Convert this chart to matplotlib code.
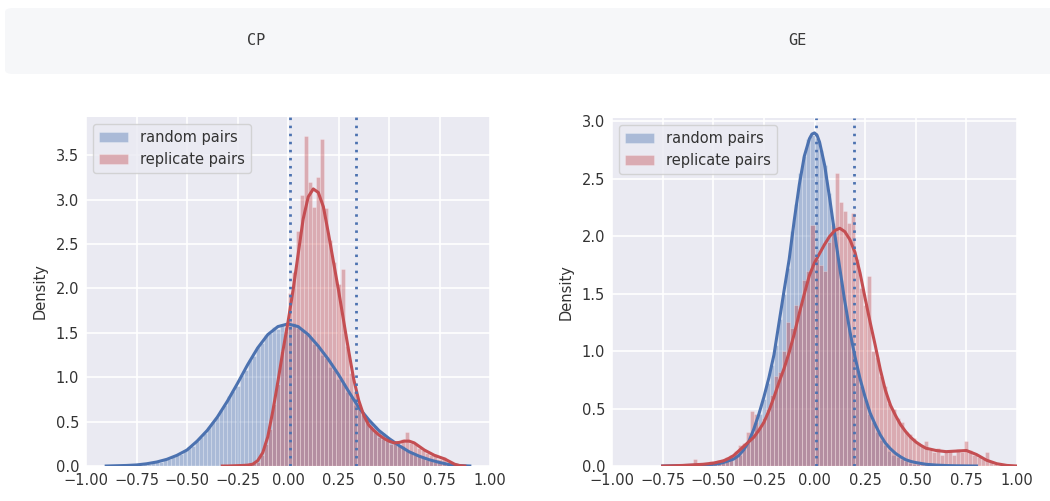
import numpy as np
import matplotlib.pyplot as plt
from matplotlib.patches import FancyBboxPatch

# colours of the seaborn "deep" palette
blue = '#4C72B0'
red = '#C44E52'

tabs = ['CP', 'GE']

# histogram bins (density), 0.02 wide, listed from the first left edge
bin_w = 0.02

cp_rand_start = -0.90
cp_rand_hist = [0.0, 0.0, 0.0, 0.01, 0.0, 0.01, 0.01, 0.02, 0.01, 0.03,
                0.02, 0.04, 0.05, 0.05, 0.07, 0.08, 0.10, 0.12, 0.14, 0.17,
                0.21, 0.23, 0.28, 0.33, 0.37, 0.44, 0.49, 0.55, 0.63, 0.69,
                0.79, 0.84, 0.90, 1.03, 1.08, 1.19, 1.24, 1.34, 1.38, 1.47,
                1.50, 1.56, 1.54, 1.60, 1.57, 1.58, 1.61, 1.55, 1.54, 1.49,
                1.45, 1.37, 1.34, 1.25, 1.22, 1.12, 1.08, 0.98, 0.93, 0.83,
                0.78, 0.69, 0.65, 0.57, 0.54, 0.48, 0.45, 0.39, 0.37, 0.32,
                0.30, 0.28, 0.23, 0.22, 0.18, 0.16, 0.12, 0.12, 0.09, 0.07,
                0.06, 0.05, 0.04, 0.03, 0.02, 0.01, 0.01, 0.0]

cp_rep_start = -0.30
cp_rep_hist = [0.0, 0.01, 0.0, 0.01, 0.01, 0.02, 0.03, 0.05, 0.12, 0.25,
               0.42, 0.70, 0.92, 1.30, 1.52, 1.95, 2.18, 2.65, 3.05, 3.72,
               3.20, 2.92, 3.25, 3.68, 2.90, 2.55, 2.30, 2.05, 2.22, 1.35,
               1.05, 0.85, 0.68, 0.58, 0.52, 0.45, 0.40, 0.33, 0.30, 0.31,
               0.25, 0.28, 0.24, 0.30, 0.38, 0.26, 0.25, 0.20, 0.18, 0.15,
               0.12, 0.14, 0.08, 0.10, 0.05, 0.02, 0.01, 0.0]

ge_rand_start = -0.56
ge_rand_hist = [0.01, 0.01, 0.02, 0.02, 0.03, 0.03, 0.05, 0.06, 0.08, 0.10,
                0.15, 0.20, 0.28, 0.38, 0.45, 0.58, 0.72, 0.88, 1.05, 1.28,
                1.50, 1.72, 2.05, 2.28, 2.55, 2.70, 2.85, 2.88, 2.86, 2.75,
                2.62, 2.38, 2.12, 1.88, 1.62, 1.40, 1.20, 1.00, 0.85, 0.70,
                0.58, 0.45, 0.38, 0.30, 0.23, 0.18, 0.13, 0.10, 0.08, 0.06,
                0.04, 0.03, 0.02, 0.02, 0.01, 0.01, 0.0, 0.01]

ge_rep_start = -0.74
ge_rep_hist = [0.0, 0.0, 0.01, 0.0, 0.01, 0.01, 0.02, 0.06, 0.01, 0.02,
               0.03, 0.04, 0.03, 0.05, 0.06, 0.08, 0.10, 0.13, 0.18, 0.20,
               0.30, 0.48, 0.45, 0.35, 0.42, 0.50, 0.62, 0.78, 0.82, 1.00,
               1.25, 1.20, 1.40, 1.38, 1.62, 1.70, 2.10, 1.80, 1.75, 1.70,
               1.95, 2.10, 2.55, 2.30, 2.22, 2.12, 2.20, 1.80, 1.55, 1.40,
               1.65, 1.00, 0.95, 0.78, 0.70, 0.55, 0.50, 0.42, 0.38, 0.30,
               0.28, 0.24, 0.20, 0.18, 0.22, 0.14, 0.12, 0.16, 0.10, 0.12,
               0.14, 0.10, 0.15, 0.12, 0.22, 0.14, 0.10, 0.08, 0.06, 0.12,
               0.04, 0.02, 0.01, 0.0]

# kde curves
cp_rand_kx = [-0.90, -0.85, -0.80, -0.75, -0.70, -0.65, -0.60, -0.55, -0.50, -0.45,
              -0.40, -0.35, -0.30, -0.25, -0.20, -0.15, -0.10, -0.05, 0.00, 0.05,
              0.10, 0.15, 0.20, 0.25, 0.30, 0.35, 0.40, 0.45, 0.50, 0.55,
              0.60, 0.65, 0.70, 0.75, 0.80, 0.85, 0.90]
cp_rand_ky = [0.0, 0.003, 0.006, 0.012, 0.025, 0.045, 0.075, 0.12, 0.18, 0.28,
              0.40, 0.55, 0.73, 0.93, 1.14, 1.33, 1.48, 1.57, 1.60, 1.57,
              1.48, 1.35, 1.20, 1.03, 0.84, 0.66, 0.52, 0.40, 0.31, 0.23,
              0.16, 0.11, 0.07, 0.04, 0.015, 0.005, 0.0]

cp_rep_kx = [-0.325, -0.30, -0.275, -0.25, -0.225, -0.20, -0.175, -0.15, -0.125, -0.10,
             -0.075, -0.05, -0.025, 0.0, 0.025, 0.05, 0.075, 0.10, 0.125, 0.15,
             0.175, 0.20, 0.225, 0.25, 0.275, 0.30, 0.325, 0.35, 0.375, 0.40,
             0.425, 0.45, 0.475, 0.50, 0.525, 0.55, 0.575, 0.60, 0.625, 0.65,
             0.675, 0.70, 0.725, 0.75, 0.775, 0.80, 0.825, 0.85, 0.875]
cp_rep_ky = [0.0, 0.0, 0.002, 0.004, 0.006, 0.01, 0.02, 0.06, 0.15, 0.33,
             0.62, 0.95, 1.30, 1.62, 1.98, 2.38, 2.78, 3.03, 3.12, 3.08,
             2.92, 2.62, 2.30, 1.98, 1.64, 1.30, 0.98, 0.74, 0.57, 0.46,
             0.40, 0.35, 0.31, 0.28, 0.26, 0.265, 0.28, 0.28, 0.26, 0.22,
             0.18, 0.15, 0.12, 0.10, 0.08, 0.05, 0.02, 0.005, 0.0]

ge_rand_kx = [-0.75, -0.70, -0.65, -0.60, -0.55, -0.50, -0.475, -0.45, -0.425, -0.40,
              -0.375, -0.35, -0.325, -0.30, -0.275, -0.25, -0.225, -0.20, -0.175, -0.15,
              -0.125, -0.10, -0.075, -0.05, -0.025, -0.0125, 0.0, 0.0125, 0.025, 0.05,
              0.075, 0.10, 0.125, 0.15, 0.175, 0.20, 0.225, 0.25, 0.275, 0.30,
              0.325, 0.35, 0.375, 0.40, 0.425, 0.45, 0.475, 0.50, 0.55, 0.60,
              0.65, 0.70, 0.75, 0.80]
ge_rand_ky = [0.0, 0.002, 0.004, 0.006, 0.01, 0.015, 0.02, 0.03, 0.045, 0.06,
              0.09, 0.14, 0.21, 0.32, 0.45, 0.60, 0.77, 0.97, 1.25, 1.53,
              1.80, 2.14, 2.45, 2.70, 2.85, 2.89, 2.90, 2.88, 2.82, 2.62,
              2.33, 2.02, 1.72, 1.43, 1.17, 0.95, 0.76, 0.60, 0.46, 0.36,
              0.27, 0.20, 0.15, 0.11, 0.08, 0.055, 0.04, 0.03, 0.015, 0.008,
              0.004, 0.002, 0.001, 0.0]

ge_rep_kx = [-0.75, -0.70, -0.65, -0.60, -0.55, -0.50, -0.45, -0.425, -0.40, -0.375,
             -0.35, -0.325, -0.30, -0.275, -0.25, -0.225, -0.20, -0.175, -0.15, -0.125,
             -0.10, -0.075, -0.05, -0.025, 0.0, 0.025, 0.05, 0.075, 0.10, 0.125,
             0.15, 0.175, 0.20, 0.225, 0.25, 0.275, 0.30, 0.325, 0.35, 0.375,
             0.40, 0.425, 0.45, 0.475, 0.50, 0.525, 0.55, 0.60, 0.65, 0.70,
             0.75, 0.80, 0.85, 0.90, 0.95, 1.00]
ge_rep_ky = [0.0, 0.002, 0.005, 0.01, 0.015, 0.025, 0.045, 0.065, 0.09, 0.13,
             0.17, 0.21, 0.25, 0.31, 0.38, 0.48, 0.60, 0.73, 0.85, 0.99,
             1.15, 1.33, 1.50, 1.66, 1.77, 1.85, 1.93, 2.00, 2.05, 2.07,
             2.04, 1.97, 1.86, 1.68, 1.46, 1.25, 1.05, 0.84, 0.66, 0.53,
             0.44, 0.36, 0.30, 0.25, 0.21, 0.18, 0.155, 0.135, 0.125, 0.13,
             0.135, 0.10, 0.05, 0.02, 0.005, 0.0]

# dotted reference lines
cp_lines = [0.01, 0.335]
ge_lines = [0.005, 0.195]

panels = [
    (cp_rand_start, cp_rand_hist, cp_rep_start, cp_rep_hist,
     cp_rand_kx, cp_rand_ky, cp_rep_kx, cp_rep_ky, cp_lines, 3.93, np.arange(0, 3.6, 0.5)),
    (ge_rand_start, ge_rand_hist, ge_rep_start, ge_rep_hist,
     ge_rand_kx, ge_rand_ky, ge_rep_kx, ge_rep_ky, ge_lines, 3.03, np.arange(0, 3.1, 0.5)),
]

fig = plt.figure(figsize=(10.5, 5.01), dpi=100)
fig.patch.set_facecolor('white')

# grey header strip with the two tab names
hdr = FancyBboxPatch((5 / 1050, 1 - 74 / 501), 1.2, 66 / 501,
                     boxstyle='round,pad=0,rounding_size=0.008',
                     transform=fig.transFigure, facecolor='#f6f7f9',
                     edgecolor='none', zorder=0)
fig.patches.append(hdr)
fig.text(256 / 1050, 1 - 41 / 501, tabs[0], family='DejaVu Sans Mono',
         fontsize=11, color='#3a3a3a', ha='center', va='center')
fig.text(797 / 1050, 1 - 41 / 501, tabs[1], family='DejaVu Sans Mono',
         fontsize=11, color='#3a3a3a', ha='center', va='center')

axes_pos = [[86 / 1050, 35 / 501, 404 / 1050, 349 / 501],
            [612 / 1050, 35 / 501, 405 / 1050, 348 / 501]]

for pos, p in zip(axes_pos, panels):
    (r_start, r_hist, p_start, p_hist, rkx, rky, pkx, pky, vl, ytop, yt) = p
    ax = fig.add_axes(pos)
    ax.set_facecolor('#EAEAF2')
    ax.set_axisbelow(True)
    ax.grid(True, color='white', linewidth=1.2)
    for s in ax.spines.values():
        s.set_visible(False)

    rc = r_start + bin_w / 2 + bin_w * np.arange(len(r_hist))
    pc = p_start + bin_w / 2 + bin_w * np.arange(len(p_hist))
    ax.bar(rc, r_hist, width=bin_w, color=blue, alpha=0.4,
           edgecolor='white', linewidth=0.4, label='random pairs')
    ax.bar(pc, p_hist, width=bin_w, color=red, alpha=0.4,
           edgecolor='white', linewidth=0.4, label='replicate pairs')
    ax.plot(rkx, rky, color=blue, linewidth=2.2)
    ax.plot(pkx, pky, color=red, linewidth=2.2)
    for v in vl:
        ax.axvline(v, color=blue, linestyle=(0, (0.9, 2.0)), linewidth=2)

    ax.set_xlim(-1, 1)
    ax.set_ylim(0, ytop)
    ax.set_xticks(np.arange(-1, 1.01, 0.25))
    ax.set_xticklabels(['−1.00', '−0.75', '−0.50', '−0.25', '0.00',
                        '0.25', '0.50', '0.75', '1.00'])
    ax.set_yticks(yt)
    ax.tick_params(length=0, labelsize=10.5, colors='#333333', pad=5)
    ax.set_ylabel('Density', fontsize=10.5, color='#333333', labelpad=6)
    leg = ax.legend(loc='upper left', fontsize=10.5, framealpha=0.8,
                    facecolor='#EAEAF2', edgecolor='#cccccc')
    for t in leg.get_texts():
        t.set_color('#333333')

fig.savefig('out.png', dpi=100)
